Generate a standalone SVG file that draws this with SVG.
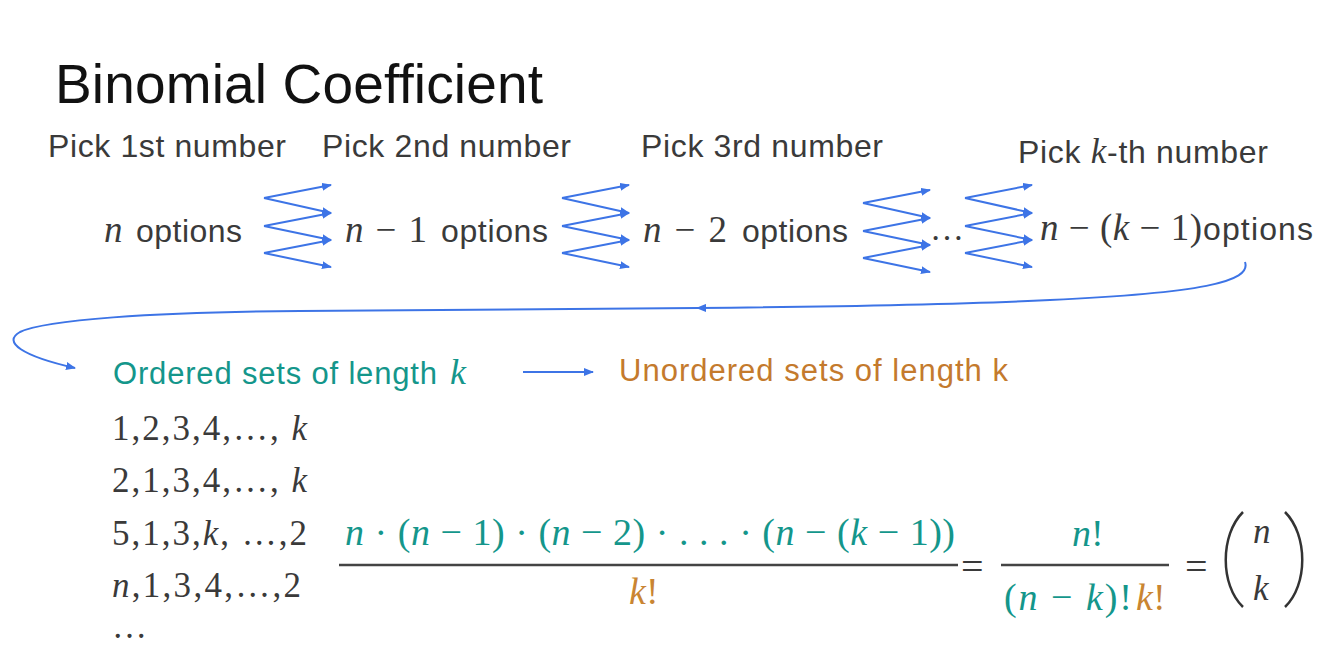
<svg xmlns="http://www.w3.org/2000/svg" width="1322" height="654" viewBox="0 0 1322 654">
<defs>
<marker id="ah" viewBox="0 0 10 8" refX="9" refY="4" markerWidth="10" markerHeight="8" markerUnits="userSpaceOnUse" orient="auto">
<path d="M0 0 L10 4 L0 8 Z" fill="#3d74e6"/>
</marker>
<style>
.sans{font-family:"Liberation Sans",Arial,sans-serif}
.serif{font-family:"Liberation Serif","Times New Roman",serif}
.it{font-style:italic}
.gray{fill:#3a3a3a}
.teal{fill:#14968b}
.orng{fill:#c98532}
.conn{fill:none;stroke:#3d74e6;stroke-width:2}
.zz{stroke:#3d74e6;stroke-width:2;fill:none}
.bar{stroke:#444;stroke-width:2.5}
</style>
</defs>
<rect width="1322" height="654" fill="#ffffff"/>

<g id="title">
<text x="55" y="103" class="sans" font-size="55" fill="#111" textLength="488" lengthAdjust="spacing">Binomial Coefficient</text>
</g>

<g id="pick-labels" font-size="32">
<text x="48" y="157" class="sans gray" textLength="238" lengthAdjust="spacing">Pick 1st number</text>
<text x="322" y="157" class="sans gray" textLength="249" lengthAdjust="spacing">Pick 2nd number</text>
<text x="641" y="157" class="sans gray" textLength="242" lengthAdjust="spacing">Pick 3rd number</text>
<text x="1018" y="163" class="sans gray" textLength="250" lengthAdjust="spacing">Pick <tspan class="serif it" font-size="35">k</tspan>-th number</text>
</g>

<g id="option-1">
<text x="104" y="242" class="serif it gray" font-size="37">n</text>
<text x="136" y="242" class="sans gray" font-size="32" textLength="106" lengthAdjust="spacing">options</text>
</g>
<g id="option-2">
<text x="345" y="242" class="serif gray" font-size="37" textLength="82" lengthAdjust="spacing"><tspan class="it">n</tspan> − 1</text>
<text x="441" y="242" class="sans gray" font-size="32" textLength="107" lengthAdjust="spacing">options</text>
</g>
<g id="option-3">
<text x="643" y="242" class="serif gray" font-size="37" textLength="84" lengthAdjust="spacing"><tspan class="it">n</tspan> − 2</text>
<text x="742" y="242" class="sans gray" font-size="32" textLength="106" lengthAdjust="spacing">options</text>
</g>
<g id="dots">
<text x="930" y="240" class="serif gray" font-size="34">…</text>
</g>
<g id="option-k">
<text x="1040" y="240" class="serif gray" font-size="37" textLength="162" lengthAdjust="spacing"><tspan class="it">n</tspan> − (<tspan class="it">k</tspan> − 1)</text>
<text x="1203" y="240" class="sans gray" font-size="32" textLength="110" lengthAdjust="spacing">options</text>
</g>

<g id="connectors">
<g>
<line class="zz" x1="264" y1="198" x2="331" y2="185" marker-end="url(#ah)"/>
<line class="zz" x1="264" y1="198" x2="331" y2="213" marker-end="url(#ah)"/>
<line class="zz" x1="264" y1="226" x2="331" y2="213" marker-end="url(#ah)"/>
<line class="zz" x1="264" y1="226" x2="331" y2="240" marker-end="url(#ah)"/>
<line class="zz" x1="264" y1="253" x2="331" y2="240" marker-end="url(#ah)"/>
<line class="zz" x1="264" y1="253" x2="331" y2="267" marker-end="url(#ah)"/>
</g>
<g transform="translate(298,0)">
<line class="zz" x1="264" y1="198" x2="331" y2="185" marker-end="url(#ah)"/>
<line class="zz" x1="264" y1="198" x2="331" y2="213" marker-end="url(#ah)"/>
<line class="zz" x1="264" y1="226" x2="331" y2="213" marker-end="url(#ah)"/>
<line class="zz" x1="264" y1="226" x2="331" y2="240" marker-end="url(#ah)"/>
<line class="zz" x1="264" y1="253" x2="331" y2="240" marker-end="url(#ah)"/>
<line class="zz" x1="264" y1="253" x2="331" y2="267" marker-end="url(#ah)"/>
</g>
<g transform="translate(599,5)">
<line class="zz" x1="264" y1="198" x2="331" y2="185" marker-end="url(#ah)"/>
<line class="zz" x1="264" y1="198" x2="331" y2="213" marker-end="url(#ah)"/>
<line class="zz" x1="264" y1="226" x2="331" y2="213" marker-end="url(#ah)"/>
<line class="zz" x1="264" y1="226" x2="331" y2="240" marker-end="url(#ah)"/>
<line class="zz" x1="264" y1="253" x2="331" y2="240" marker-end="url(#ah)"/>
<line class="zz" x1="264" y1="253" x2="331" y2="267" marker-end="url(#ah)"/>
</g>
<g transform="translate(701,0)">
<line class="zz" x1="264" y1="198" x2="331" y2="185" marker-end="url(#ah)"/>
<line class="zz" x1="264" y1="198" x2="331" y2="213" marker-end="url(#ah)"/>
<line class="zz" x1="264" y1="226" x2="331" y2="213" marker-end="url(#ah)"/>
<line class="zz" x1="264" y1="226" x2="331" y2="240" marker-end="url(#ah)"/>
<line class="zz" x1="264" y1="253" x2="331" y2="240" marker-end="url(#ah)"/>
<line class="zz" x1="264" y1="253" x2="331" y2="267" marker-end="url(#ah)"/>
</g>
<path class="conn" d="M 1245 262 C 1252 282, 1200 293, 1050 300 C 950 305, 800 307, 697 308" marker-end="url(#ah)"/>
<path class="conn" d="M 697 308 L 300 311 C 150 312, 45 320, 20 332 C 2 342, 22 356, 75 368" marker-end="url(#ah)"/>
<line class="conn" x1="523" y1="372" x2="593" y2="372" marker-end="url(#ah)"/>
</g>

<g id="ordered">
<text x="113" y="384" class="sans teal" font-size="31" textLength="324" lengthAdjust="spacing">Ordered sets of length</text>
<text x="450" y="384" class="serif it teal" font-size="36">k</text>
</g>
<g id="unordered">
<text x="619" y="381" class="sans" font-size="31" fill="#c47a2d" textLength="389" lengthAdjust="spacing">Unordered sets of length k</text>
</g>

<g id="list" class="serif gray" font-size="35">
<text x="112" y="440" textLength="195" lengthAdjust="spacing">1,2,3,4,…, <tspan class="it">k</tspan></text>
<text x="112" y="492" textLength="195" lengthAdjust="spacing">2,1,3,4,…, <tspan class="it">k</tspan></text>
<text x="112" y="545" textLength="195" lengthAdjust="spacing">5,1,3,<tspan class="it">k</tspan>, …,2</text>
<text x="112" y="597" textLength="189" lengthAdjust="spacing"><tspan class="it">n</tspan>,1,3,4,…,2</text>
<text x="112" y="638">…</text>
</g>

<g id="fraction-1">
<text x="345" y="545" class="serif teal" font-size="38" textLength="610" lengthAdjust="spacing"><tspan class="it">n</tspan> · (<tspan class="it">n</tspan> − 1) · (<tspan class="it">n</tspan> − 2) · . . . · (<tspan class="it">n</tspan> − (<tspan class="it">k</tspan> − 1))</text>
<line class="bar" x1="339" y1="565" x2="958" y2="565"/>
<text x="629" y="604" class="serif orng" font-size="38"><tspan class="it">k</tspan>!</text>
</g>
<g id="equals-1">
<text x="961" y="580" class="serif gray" font-size="40">=</text>
</g>
<g id="fraction-2">
<text x="1072" y="546" class="serif teal" font-size="38"><tspan class="it">n</tspan>!</text>
<line class="bar" x1="1001" y1="565" x2="1169" y2="565"/>
<text x="1004" y="610" class="serif teal" font-size="38" textLength="128" lengthAdjust="spacing">(<tspan class="it">n</tspan> − <tspan class="it">k</tspan>)!</text>
<text x="1136" y="610" class="serif orng" font-size="38"><tspan class="it">k</tspan>!</text>
</g>
<g id="equals-2">
<text x="1185" y="580" class="serif gray" font-size="40">=</text>
</g>
<g id="binomial">
<path d="M 1243 512 C 1220 535, 1220 585, 1243 607" fill="none" stroke="#333" stroke-width="2.5"/>
<path d="M 1285 512 C 1308 535, 1308 585, 1285 607" fill="none" stroke="#333" stroke-width="2.5"/>
<text x="1253" y="543" class="serif it gray" font-size="35">n</text>
<text x="1253" y="600" class="serif it gray" font-size="35">k</text>
</g>
</svg>
